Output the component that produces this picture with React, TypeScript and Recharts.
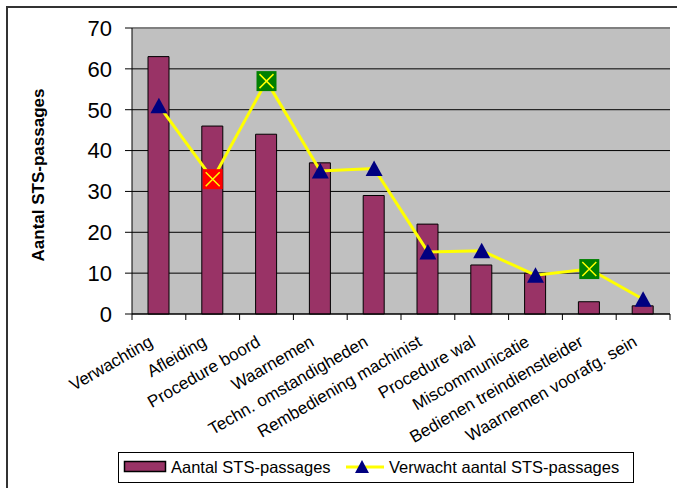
import React from 'react';
import { ComposedChart, Bar, Line, XAxis, YAxis, CartesianGrid, ReferenceLine } from 'recharts';

const categories = [
  'Verwachting',
  'Afleiding',
  'Procedure boord',
  'Waarnemen',
  'Techn. omstandigheden',
  'Rembediening machinist',
  'Procedure wal',
  'Miscommunicatie',
  'Bedienen treindienstleider',
  'Waarnemen voorafg. sein',
];
const actualPassages = [63, 46, 44, 37, 29, 22, 12, 10, 3, 2];
const expectedPassages = [51, 33, 57, 35, 35.6, 15.2, 15.5, 9.5, 11, 3.6];
// 1 = clearly more than expected, -1 = clearly less than expected, 0 = normal
const deviation = [0, 1, -1, 0, 0, 0, 0, 0, -1, 0];
const yTicks = [0, 10, 20, 30, 40, 50, 60, 70];

const seriesNames = ['Aantal STS-passages', 'Verwacht aantal STS-passages'];
const yTitle = 'Aantal STS-passages';

const data = categories.map((name, i) => ({
  name,
  actual: actualPassages[i],
  expected: expectedPassages[i],
  dev: deviation[i],
}));

const FONT = "Arial, 'Liberation Sans', sans-serif";

const CategoryTick = (props: any) => {
  const { x, y, payload, index, width, visibleTicksCount } = props;
  const n = visibleTicksCount || categories.length;
  const half = width ? width / n / 2 : 27;
  const tx = x - 5;
  const ty = y + 31;
  return (
    <g>
      <line x1={x - half} x2={x - half} y1={y} y2={y + 6} stroke="#000" strokeWidth={1} />
      {index === n - 1 ? (
        <line x1={x + half} x2={x + half} y1={y} y2={y + 6} stroke="#000" strokeWidth={1} />
      ) : null}
      <text
        x={tx}
        y={ty}
        transform={`rotate(-30 ${tx} ${ty})`}
        textAnchor="end"
        fontSize={17}
        fontFamily={FONT}
        fill="#000"
      >
        {payload.value}
      </text>
    </g>
  );
};

const YTitle = (props: any) => {
  const vb = props.viewBox || { x: 0, y: 28, width: 132, height: 286 };
  const cx = vb.x + 44;
  const cy = vb.y + vb.height / 2 + 4;
  return (
    <text
      x={cx}
      y={cy}
      transform={`rotate(-90 ${cx} ${cy})`}
      textAnchor="middle"
      fontWeight="bold"
      fontSize={17}
      fontFamily={FONT}
      fill="#000"
    >
      {yTitle}
    </text>
  );
};

const ExpectedDot = (props: any) => {
  const { cx, cy, payload, index } = props;
  if (cx == null || cy == null) return null;
  if (payload && payload.dev !== 0) {
    const fill = payload.dev > 0 ? '#FF0000' : '#008000';
    const s = 10;
    const a = 7;
    return (
      <g key={`d${index}`}>
        <rect x={cx - s} y={cy - s} width={2 * s} height={2 * s} fill={fill} />
        <path
          d={`M${cx - a},${cy - a}L${cx + a},${cy + a}M${cx + a},${cy - a}L${cx - a},${cy + a}`}
          stroke="#FFFF00"
          strokeWidth={1.5}
        />
      </g>
    );
  }
  return (
    <path
      key={`d${index}`}
      d={`M${cx},${cy - 8}L${cx + 8.5},${cy + 7.5}L${cx - 8.5},${cy + 7.5}Z`}
      fill="#000080"
    />
  );
};

const LegendBox = () => (
  <svg
    width={518}
    height={33}
    style={{ position: 'absolute', left: 117, top: 451 }}
  >
    <rect x={1.5} y={1.5} width={515} height={30} fill="#fff" stroke="#000" strokeWidth={1} />
    <rect x={7.5} y={10.5} width={41} height={10} fill="#993366" stroke="#000" strokeWidth={1.5} />
    <text x={54} y={22} fontSize={16.5} fontFamily={FONT} fill="#000">
      {seriesNames[0]}
    </text>
    <line x1={229} x2={267} y1={16} y2={16} stroke="#FFFF00" strokeWidth={3} />
    <path d="M245,9L252,22L238,22Z" fill="#000080" />
    <text x={272} y={22} fontSize={16.5} fontFamily={FONT} fill="#000">
      {seriesNames[1]}
    </text>
  </svg>
);

export default function App() {
  return (
    <div
      style={{
        position: 'fixed',
        left: 0,
        top: 0,
        width: 677,
        height: 488,
        overflow: 'hidden',
        background: '#fff',
        fontFamily: FONT,
      }}
    >
      <div
        style={{
          position: 'absolute',
          left: 6,
          top: 6,
          width: 800,
          height: 600,
          borderTop: '2px solid #333',
          borderLeft: '2px solid #333',
        }}
      />
      <div style={{ position: 'absolute', left: 0, top: 0 }}>
        <ComposedChart
          width={677}
          height={488}
          data={data}
          margin={{ top: 28, right: 7, bottom: 0, left: 0 }}
          barCategoryGap={0}
          style={{ fontFamily: FONT }}
        >
          <CartesianGrid vertical={false} stroke="#000" strokeWidth={1} fill="#C0C0C0" />
          <XAxis
            dataKey="name"
            height={174}
            interval={0}
            tickLine={false}
            tickSize={0}
            tickMargin={0}
            axisLine={{ stroke: '#000', strokeWidth: 1 }}
            tick={<CategoryTick />}
          />
          <YAxis
            width={132}
            domain={[0, 70]}
            ticks={yTicks}
            interval={0}
            tickSize={7}
            tickMargin={13}
            axisLine={{ stroke: '#000', strokeWidth: 1 }}
            tickLine={{ stroke: '#000', strokeWidth: 1 }}
            tick={{ fontSize: 22, fill: '#000', fontFamily: FONT }}
            label={<YTitle />}
          />
          <YAxis
            yAxisId="r"
            orientation="right"
            width={0}
            domain={[0, 70]}
            ticks={yTicks}
            tick={false}
            tickLine={false}
            axisLine={{ stroke: '#808080', strokeWidth: 2 }}
          />
          <ReferenceLine y={70} stroke="#808080" strokeWidth={2} />
          <Bar
            dataKey="actual"
            name={seriesNames[0]}
            fill="#993366"
            stroke="#000"
            strokeWidth={1}
            barSize={21}
            isAnimationActive={false}
          />
          <Line
            dataKey="expected"
            name={seriesNames[1]}
            stroke="#FFFF00"
            strokeWidth={3}
            dot={<ExpectedDot />}
            activeDot={false}
            isAnimationActive={false}
          />
        </ComposedChart>
      </div>
      <LegendBox />
    </div>
  );
}
